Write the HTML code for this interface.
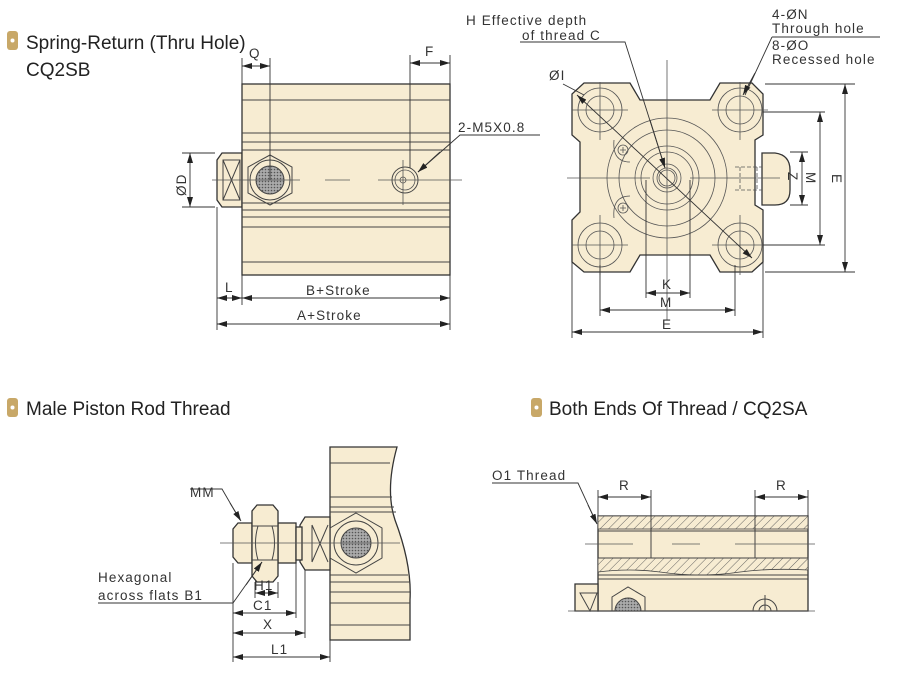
<!DOCTYPE html>
<html><head><meta charset="utf-8"><style>
html,body{margin:0;padding:0;background:#fff;}
svg{display:block;}
.t{font-family:"Liberation Sans","DejaVu Sans",sans-serif;font-size:13.5px;letter-spacing:1.1px;fill:#333;}
.h{font-family:"Liberation Sans",sans-serif;font-size:19px;fill:#222;}
.b{fill:#f7ecd2;stroke:#333;stroke-width:1.3;}
.l{stroke:#444;stroke-width:1;fill:none;}
.c{stroke:#555;stroke-width:0.8;fill:none;}
.d{stroke:#333;stroke-width:0.9;fill:none;}
</style></head><body>
<svg width="904" height="690" viewBox="0 0 904 690" xmlns="http://www.w3.org/2000/svg">
<defs>
<marker id="a" markerWidth="10" markerHeight="6" refX="10" refY="3" orient="auto-start-reverse" markerUnits="userSpaceOnUse"><path d="M0,0 L10,3 L0,6 z" fill="#222"/></marker>
<pattern id="hat" width="6" height="6" patternUnits="userSpaceOnUse" patternTransform="rotate(45)"><rect width="6" height="6" fill="#f7ecd2"/><line x1="0" y1="0" x2="0" y2="6" stroke="#555" stroke-width="0.9"/></pattern>
<pattern id="mesh" width="3" height="3" patternUnits="userSpaceOnUse"><rect width="3" height="3" fill="#aaa"/><circle cx="1.5" cy="1.5" r="0.8" fill="#555"/></pattern>
</defs>

<!-- Headings -->
<rect x="7" y="31" width="11" height="19" rx="3" fill="#c8a868"/><circle cx="12.5" cy="40.5" r="2" fill="#fff"/>
<text class="h" x="26" y="49">Spring-Return (Thru Hole)</text>
<text class="h" x="26" y="76">CQ2SB</text>
<rect x="7" y="398" width="11" height="19" rx="3" fill="#c8a868"/><circle cx="12.5" cy="407.5" r="2" fill="#fff"/>
<text class="h" x="26" y="415">Male Piston Rod Thread</text>
<rect x="531" y="398" width="11" height="19" rx="3" fill="#c8a868"/><circle cx="536.5" cy="407.5" r="2" fill="#fff"/>
<text class="h" x="549" y="415">Both Ends Of Thread / CQ2SA</text>

<!-- ===== Top-left side view ===== -->
<path class="b" d="M242,153 L222,153 L217,160 L217,200 L222,207 L242,207 Z"/>
<path class="l" d="M223,160 L240,200 M223,200 L240,160 M223,160 L240,160 L240,200 L223,200 Z"/>
<rect class="b" x="242" y="84" width="208" height="191"/>
<path class="l" d="M242,100H450 M242,133H450 M242,142H450 M242,150H450 M242,203H450 M242,210H450 M242,217H450 M242,227H450 M242,262H450"/>
<polygon class="l" points="270,155 292,167 292,193 270,205 248,193 248,167" fill="#f7ecd2"/>
<circle cx="270" cy="180" r="20" class="l"/>
<circle cx="270" cy="180" r="14" fill="url(#mesh)" stroke="#444"/>
<circle cx="405" cy="180" r="13" class="l"/><circle cx="405" cy="180" r="10" class="c"/><circle cx="403" cy="180" r="3" class="c"/>
<path class="c" d="M212,180H300 M325,180H350 M378,180H462 M403,160V205"/>
<!-- dims -->
<path class="d" d="M242,84V58 M270,180V58 M410,168V55 M450,84V55"/>
<line class="d" x1="242" y1="66" x2="270" y2="66" marker-start="url(#a)" marker-end="url(#a)"/>
<text class="t" x="249" y="58">Q</text>
<line class="d" x1="410" y1="63" x2="450" y2="63" marker-start="url(#a)" marker-end="url(#a)"/>
<text class="t" x="425" y="56">F</text>
<path class="d" d="M217,207V330 M242,275V305 M450,275V330 M215,153H182 M215,207H182"/>
<line class="d" x1="190" y1="153" x2="190" y2="207" marker-start="url(#a)" marker-end="url(#a)"/>
<text class="t" transform="translate(186,196) rotate(-90)">ØD</text>
<line class="d" x1="217" y1="298" x2="242" y2="298" marker-start="url(#a)" marker-end="url(#a)"/>
<text class="t" x="225" y="292">L</text>
<line class="d" x1="242" y1="298" x2="450" y2="298" marker-start="url(#a)" marker-end="url(#a)"/>
<text class="t" x="306" y="295">B+Stroke</text>
<line class="d" x1="217" y1="324" x2="450" y2="324" marker-start="url(#a)" marker-end="url(#a)"/>
<text class="t" x="297" y="320">A+Stroke</text>
<path class="d" d="M540,135H460 L418,172"/>
<line class="d" x1="440" y1="152" x2="418" y2="172" marker-end="url(#a)"/>
<text class="t" x="458" y="132">2-M5X0.8</text>

<!-- ===== Top-right end view ===== -->
<path class="b" d="M762,153 H775 Q790,155 790,170 V190 Q790,205 775,205 H762 Z"/>
<path class="b" d="M584,83 H630 L640,100 H710 L720,83 H752 L763,94 V135 L755,140 V205 L763,210 V262 L752,272 H720 L710,255 H640 L630,272 H584 L572,262 V220 L580,212 V142 L572,135 V94 Z"/>
<g class="c">
<circle cx="600" cy="110" r="22"/><circle cx="600" cy="110" r="14"/>
<circle cx="740" cy="110" r="22"/><circle cx="740" cy="110" r="14"/>
<circle cx="600" cy="245" r="22"/><circle cx="600" cy="245" r="14"/>
<circle cx="740" cy="245" r="22"/><circle cx="740" cy="245" r="14"/>
<path d="M572,110H628 M600,82V140 M712,110H768 M740,82V140 M572,245H628 M600,215V275 M712,245H768 M740,215V275"/>
<circle cx="667" cy="178" r="60"/><circle cx="667" cy="178" r="48"/>
<circle cx="667" cy="178" r="32"/><circle cx="667" cy="178" r="26"/>
<circle cx="667" cy="178" r="14"/><circle cx="667" cy="178" r="10"/><circle cx="667" cy="178" r="8"/>
<circle cx="623" cy="150" r="5"/><circle cx="623" cy="208" r="5"/>
<path d="M620,150h6M623,147v6M620,208h6M623,205v6"/>
<path d="M614,140 Q612,162 630,162 M614,218 Q612,196 630,196"/>
<path d="M735,167H762 M735,190H762 M740,167V190 M757,167V190" stroke-dasharray="4,2"/>
<path d="M567,178H650 M690,178H780 M667,60V320"/>
</g>
<line class="d" x1="577" y1="95" x2="752" y2="258" marker-start="url(#a)" marker-end="url(#a)"/>
<path class="d" d="M563,84 L584,95"/>
<text class="t" x="549" y="80">ØI</text>
<path class="d" d="M520,42H625 L665,168"/>
<line class="d" x1="650" y1="120" x2="665" y2="168" marker-end="url(#a)"/>
<text class="t" x="466" y="25">H Effective depth</text>
<text class="t" x="522" y="40">of thread C</text>
<path class="d" d="M772,37H880 M772,37 L745,95"/>
<line class="d" x1="755" y1="73" x2="743" y2="95" marker-end="url(#a)"/>
<text class="t" x="772" y="19">4-ØN</text>
<text class="t" x="772" y="33">Through hole</text>
<text class="t" x="772" y="50">8-ØO</text>
<text class="t" x="772" y="64">Recessed hole</text>
<!-- dims -->
<path class="d" d="M572,262V338 M763,262V338 M600,265V316 M735,265V316 M646,180V298 M690,180V298 M765,84H855 M765,272H855 M763,112H825 M763,245H825 M790,152H808 M790,205H808"/>
<line class="d" x1="572" y1="332" x2="763" y2="332" marker-start="url(#a)" marker-end="url(#a)"/>
<text class="t" x="662" y="329">E</text>
<line class="d" x1="600" y1="310" x2="735" y2="310" marker-start="url(#a)" marker-end="url(#a)"/>
<text class="t" x="660" y="307">M</text>
<line class="d" x1="646" y1="293" x2="690" y2="293" marker-start="url(#a)" marker-end="url(#a)"/>
<text class="t" x="662" y="289">K</text>
<line class="d" x1="802" y1="152" x2="802" y2="205" marker-start="url(#a)" marker-end="url(#a)"/>
<text class="t" transform="translate(788,172) rotate(90)">Z</text>
<line class="d" x1="820" y1="112" x2="820" y2="245" marker-start="url(#a)" marker-end="url(#a)"/>
<text class="t" transform="translate(806,172) rotate(90)">M</text>
<line class="d" x1="845" y1="84" x2="845" y2="272" marker-start="url(#a)" marker-end="url(#a)"/>
<text class="t" transform="translate(832,174) rotate(90)">E</text>

<!-- ===== Bottom-left male rod ===== -->
<path class="b" d="M330,447 H397 Q385,490 395,520 Q412,565 410,600 L410,640 H330 Z"/>
<path class="l" d="M330,463H390 M330,497H392 M330,507H394 M330,512H396 M330,575H408 M330,582H409 M330,592H410 M330,603H410 M330,625H410"/>
<path class="b" d="M305,517 H330 V570 H305 L300,562 V525 Z"/>
<path class="l" d="M312,525 L328,562 M312,562 L328,525 M312,525V562"/>
<rect class="b" x="278" y="523" width="18" height="40"/>
<rect class="b" x="296" y="527" width="6" height="33"/>
<path class="b" d="M238,523 H252 V563 H238 L233,557 V529 Z"/>
<path class="b" d="M257,505 H273 L278,511 V576 L273,582 H257 L252,576 V511 Z"/>
<path class="l" d="M252,526 H278 M252,560 H278 M258,526 Q253,543 258,560 M272,526 Q277,543 272,560"/>
<polygon class="l" points="356,513 382,528 382,558 356,573 330,558 330,528" fill="#f7ecd2"/>
<circle cx="356" cy="543" r="22" class="l"/>
<circle cx="356" cy="543" r="15" fill="url(#mesh)" stroke="#444"/>
<path class="c" d="M220,543H400"/>
<path class="d" d="M190,489H222 L240,520"/>
<line class="d" x1="230" y1="503" x2="241" y2="521" marker-end="url(#a)"/>
<text class="t" x="190" y="497">MM</text>
<path class="d" d="M98,603H233 L262,562"/>
<line class="d" x1="246" y1="585" x2="262" y2="562" marker-end="url(#a)"/>
<text class="t" x="98" y="582">Hexagonal</text>
<text class="t" x="98" y="600">across flats B1</text>
<path class="d" d="M233,563V662 M255,582V598 M278,582V598 M296,563V618 M305,570V638 M330,640V662"/>
<line class="d" x1="255" y1="593" x2="278" y2="593" marker-start="url(#a)" marker-end="url(#a)"/>
<text class="t" x="254" y="590">H1</text>
<line class="d" x1="233" y1="613" x2="296" y2="613" marker-start="url(#a)" marker-end="url(#a)"/>
<text class="t" x="253" y="610">C1</text>
<line class="d" x1="233" y1="633" x2="305" y2="633" marker-start="url(#a)" marker-end="url(#a)"/>
<text class="t" x="263" y="629">X</text>
<line class="d" x1="233" y1="657" x2="330" y2="657" marker-start="url(#a)" marker-end="url(#a)"/>
<text class="t" x="271" y="654">L1</text>

<!-- ===== Bottom-right both ends thread ===== -->
<rect class="b" x="598" y="516" width="210" height="95"/>
<rect x="598" y="516" width="210" height="13" fill="url(#hat)" stroke="#444" stroke-width="0.8"/>
<path d="M598,558 H808 V570 Q770,568 740,572 Q700,578 660,572 Q630,568 598,572 Z" fill="url(#hat)" stroke="#444" stroke-width="0.8"/>
<path class="l" d="M598,531H808 M598,575H808 M598,579H808 M598,558H808 M651,531V558 M755,531V558"/>
<path class="b" d="M575,584 L580,584 H598 V611 H575 Z"/>
<path class="l" d="M580,593 L590,611 L597,593 Z"/>
<path class="l" d="M612,611 V597 L628,587 L645,597 V611" fill="#f7ecd2"/>
<path d="M615,611 A13,13 0 0 1 641,611 Z" fill="url(#mesh)" stroke="#444"/>
<path class="l" d="M753,611 A12,12 0 0 1 777,611 M759,611 A6,6 0 0 1 771,611 M765,595V611"/>
<path class="c" d="M585,544H633 M672,544H700 M735,544H815 M568,611H815"/>
<path class="d" d="M598,516V490 M651,531V490 M755,531V490 M808,516V490"/>
<line class="d" x1="598" y1="497" x2="651" y2="497" marker-start="url(#a)" marker-end="url(#a)"/>
<text class="t" x="619" y="490">R</text>
<line class="d" x1="755" y1="497" x2="808" y2="497" marker-start="url(#a)" marker-end="url(#a)"/>
<text class="t" x="776" y="490">R</text>
<path class="d" d="M492,483H578 L596,522"/>
<line class="d" x1="588" y1="505" x2="597" y2="524" marker-end="url(#a)"/>
<text class="t" x="492" y="480">O1 Thread</text>
</svg>
</body></html>
